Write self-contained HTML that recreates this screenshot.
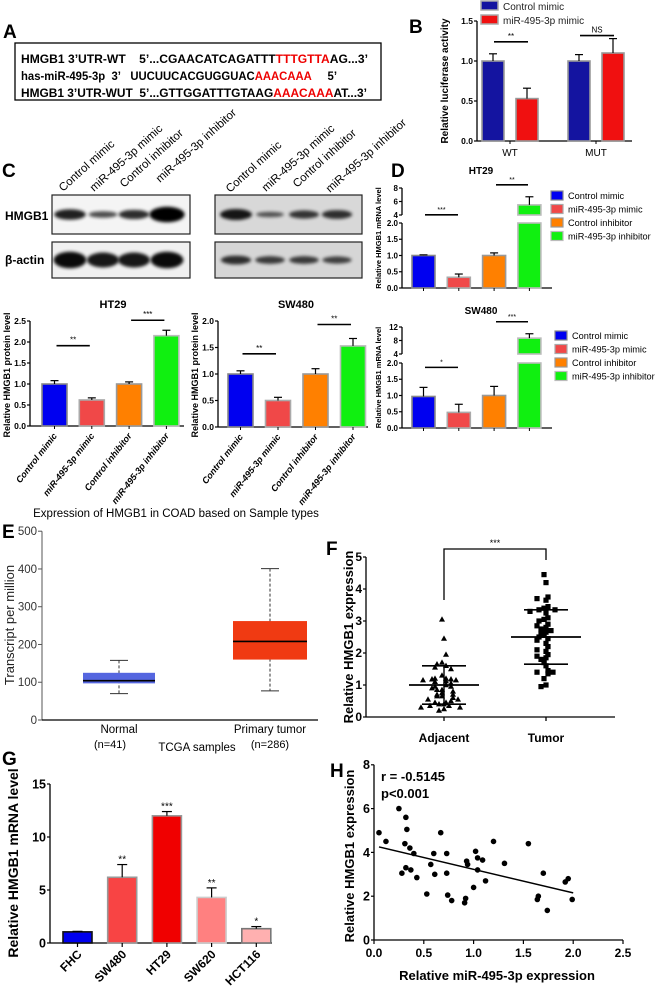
<!DOCTYPE html>
<html><head><meta charset="utf-8"><style>
html,body{margin:0;padding:0;background:#fff;width:656px;height:990px;overflow:hidden}
svg{display:block;font-family:"Liberation Sans",Arial,sans-serif}
.pl{font-weight:bold;font-size:19px;font-family:"Liberation Sans Narrow","Liberation Sans",sans-serif}
</style></head><body>
<svg id="fig" width="656" height="990" viewBox="0 0 656 990">
<defs>
<filter id="blur" x="-30%" y="-60%" width="160%" height="220%"><feGaussianBlur stdDeviation="1.6"/></filter>
</defs>
<text class="pl" x="3" y="38">A</text>
<rect x="15" y="43" width="366" height="57" fill="#fff" stroke="#000" stroke-width="1.3"/>
<g font-size="11.5" font-weight="bold" font-family="Liberation Sans Narrow,Liberation Sans,sans-serif">
<text x="21" y="63" textLength="347" lengthAdjust="spacingAndGlyphs">HMGB1 3’UTR-WT&#160;&#160;&#160; 5’...CGAACATCAGATTT<tspan fill="#e00">TTTGTTA</tspan>AG...3’</text>
<text x="21" y="80" textLength="316" lengthAdjust="spacingAndGlyphs">has-miR-495-3p&#160; 3’&#160;&#160; UUCUUCACGUGGUAC<tspan fill="#e00">AAACAAA</tspan>&#160;&#160;&#160;&#160; 5’</text>
<text x="21" y="97" textLength="346" lengthAdjust="spacingAndGlyphs">HMGB1 3’UTR-WUT&#160; 5’...GTTGGATTTGTAAG<tspan fill="#e00">AAACAAA</tspan>AT...3’</text>
</g>
<text class="pl" x="409" y="33">B</text>
<text class="pl" x="2" y="177">C</text>
<text class="pl" x="391" y="177">D</text>
<text class="pl" x="2" y="538">E</text>
<text class="pl" x="326" y="555">F</text>
<text class="pl" x="2" y="765">G</text>
<text class="pl" x="330" y="777">H</text>
<g id="layer"></g>
</svg>
<script>
// Panel B
const bGroups=["WT","MUT"];
const bSeries=["Control mimic","miR-495-3p mimic"];
const bCtrl=[1.0,1.0];
const bMimic=[0.53,1.1];
const bCtrlErr=[0.09,0.08];
const bMimicErr=[0.13,0.18];
const bTicks=[0,0.5,1.0,1.5];
const bSig=["**","NS"];
// Panel C blots
const blotLanes=["Control mimic","miR-495-3p mimic","Control inhibitor","miR-495-3p inhibitor"];
const htHmgb=[0.95,0.6,0.85,1.4];
const htActin=[1.1,1.0,1.0,1.1];
const swHmgb=[1.0,0.5,0.75,0.8];
const swActin=[0.8,0.7,0.7,0.65];
// Panel C quant
const protCats=["Control mimic","miR-495-3p mimic","Control inhibitor","miR-495-3p inhibitor"];
const protHT=[1.0,0.62,1.0,2.15];
const protHTErr=[0.08,0.05,0.05,0.13];
const protHTTicks=[0,0.5,1.0,1.5,2.0,2.5];
const protSW=[1.0,0.5,1.0,1.53];
const protSWErr=[0.06,0.06,0.1,0.14];
const protSWTicks=[0,0.5,1.0,1.5,2.0];
const protSig=["**","***"];
const protSigSW=["**","**"];
// Panel D
const dHT=[1.0,0.33,1.0,5.5];
const dHTErr=[0.02,0.1,0.08,1.2];
const dSW=[0.97,0.48,1.0,8.7];
const dSWErr=[0.28,0.25,0.28,1.3];
const dLowTicks=[0,0.5,1.0,1.5,2.0];
const dHTUpTicks=[4,6,8];
const dSWUpTicks=[4,8,12];
const dSigHT=["***","**"];
const dSigSW=["*","***"];
// Panel E
const eCats=["Normal","Primary tumor"];
const eN=["(n=41)","(n=286)"];
const eMin=[70,77];
const eQ1=[97,160];
const eMed=[104,208];
const eQ3=[125,262];
const eMax=[158,401];
const eTicks=[0,100,200,300,400,500];
// Panel F
const fCats=["Adjacent","Tumor"];
const fAdj=[3.05,2.45,1.95,1.7,1.65,1.6,1.55,1.5,1.2,1.2,1.18,1.18,1.15,1.15,1.12,1.1,1.05,1.0,0.95,0.95,0.9,0.85,0.85,0.8,0.75,0.7,0.7,0.65,0.65,0.6,0.55,0.55,0.45,0.45,0.4,0.4,0.35,0.35,0.3,0.3,0.25,0.2,1.3,0.5];
const fTum=[4.45,4.2,3.75,3.7,3.65,3.45,3.4,3.35,3.35,3.3,3.25,3.1,3.05,3.0,2.9,2.85,2.8,2.75,2.7,2.65,2.6,2.55,2.5,2.45,2.4,2.3,2.2,2.1,2.05,1.95,1.9,1.85,1.8,1.7,1.6,1.45,1.4,1.4,1.35,1.2,1.0,0.95];
const fMean=[1.0,2.5];
const fSD=[0.6,0.85];
const fTicks=[0,1,2,3,4,5];
// Panel G
const gCats=["FHC","SW480","HT29","SW620","HCT116"];
const gVals=[1.05,6.2,12.0,4.3,1.35];
const gErr=[0.05,1.2,0.4,0.9,0.2];
const gSig=["","**","***","**","*"];
const gTicks=[0,5,10,15];
// Panel H
const hX=[0.05,0.12,0.25,0.28,0.32,0.33,0.31,0.32,0.36,0.37,0.4,0.43,0.53,0.57,0.6,0.61,0.67,0.73,0.73,0.74,0.78,0.91,0.92,0.93,0.94,1.0,1.02,1.04,1.04,1.09,1.12,1.2,1.31,1.55,1.64,1.65,1.7,1.74,1.92,1.95,1.99];
const hY=[4.9,4.5,6.0,3.05,5.6,5.05,4.4,3.3,4.2,3.2,3.95,2.85,2.1,3.45,3.95,3.0,4.9,3.95,3.05,2.05,1.8,1.7,1.9,3.6,3.45,2.4,4.05,3.75,3.2,3.65,2.7,4.5,3.5,4.4,1.85,2.0,3.05,1.35,2.65,2.8,1.85];
const hFit=[4.25,2.15];
const hFitX=[0.05,2.0];
const hXTicks=[0,0.5,1.0,1.5,2.0,2.5];
const hYTicks=[0,2,4,6,8];

const NS="http://www.w3.org/2000/svg";
const L=document.getElementById('layer');
function mk(tag,a,p){const e=document.createElementNS(NS,tag);for(const k in a)e.setAttribute(k,a[k]);(p||L).appendChild(e);return e;}
function fmt(v,d){return v.toFixed(d);}
function yAxis(x,ticks,scale,dec,fs,name,col){
  const ln=mk('line',{x1:x,x2:x,y1:scale(ticks[ticks.length-1]),y2:scale(ticks[0]),stroke:col||'#000','stroke-width':1.3});
  
  
  ticks.forEach(t=>{const y=scale(t);
    mk('line',{x1:x-3,x2:x,y1:y,y2:y,stroke:col||'#000','stroke-width':1.2});
    const tx=mk('text',{x:x-4,y:y+fs*0.35,'font-size':fs,'font-weight':'bold','text-anchor':'end'});
    tx.textContent=fmt(t,dec);
    
    });
}
function xAxis(x1,x2,y,name){const ln=mk('line',{x1:x1,x2:x2,y1:y,y2:y,stroke:'#000','stroke-width':1.3});
  
  }
function rotText(x,y,txt,fs,ang,name,anchor,extra){
  const t=mk('text',Object.assign({x:x,y:y,'font-size':fs,'text-anchor':anchor||'middle',transform:`rotate(${ang} ${x} ${y})`},extra||{}));
  t.textContent=txt;
  
  
  return t;}
function bar(x,w,y0,y1,fill,stroke,name){const r=mk('rect',{x:x,y:Math.min(y0,y1),width:w,height:Math.abs(y1-y0),fill:fill,stroke:stroke,'stroke-width':1.6});
  
  return r;}
function err(cx,yTop,yErr,cap){mk('line',{x1:cx,x2:cx,y1:yTop,y2:yErr,stroke:'#000','stroke-width':1.2});mk('line',{x1:cx-cap,x2:cx+cap,y1:yErr,y2:yErr,stroke:'#000','stroke-width':1.2});}
function sig(x1,x2,y,txt,fs){mk('line',{x1:x1,x2:x2,y1:y,y2:y,stroke:'#000','stroke-width':1.6});
  const t=mk('text',{x:(x1+x2)/2,y:y-3,'font-size':fs,'text-anchor':'middle'});t.textContent=txt;
  
  }
function label(x,y,txt,fs,anchor,name,extra){const t=mk('text',Object.assign({x:x,y:y,'font-size':fs,'text-anchor':anchor},extra||{}));t.textContent=txt;
  
  return t;}
const fourCol=['#0000f0','#f04848','#ff8000','#10f010'];
const fourStroke=['#888','#aaa','#999','#bbb'];

(function(){
  const yB=v=>141-v*80; const ax=477;
  yAxis(ax,bTicks,yB,1,8.5,'b');
  xAxis(ax,632,141,'b');
  rotText(448,81,'Relative luciferase activity',10,-90,'b-y-title','middle',{'font-weight':'bold'});
  bGroups.forEach((g,i)=>{
    const gl=482+i*86;
    const y1=yB(bCtrl[i]);bar(gl,22,yB(0),y1,'#1414a0','#999','b-bar-control-'+g);
    err(gl+11,y1,yB(bCtrl[i]+bCtrlErr[i]),4);
    const y2=yB(bMimic[i]);bar(gl+34,22,yB(0),y2,'#f01010','#999','b-bar-mimic-'+g);
    err(gl+45,y2,yB(bMimic[i]+bMimicErr[i]),4);
    mk('line',{x1:gl+28,x2:gl+28,y1:141,y2:144,stroke:'#000'});
    label(gl+28,156,g,10,'middle','b-x-label-'+g);
    const top=Math.max(bCtrl[i]+bCtrlErr[i],bMimic[i]+bMimicErr[i]);
    sig(gl+12,gl+46,yB(top)-(i?3:12),bSig[i],8);
  });
  bSeries.forEach((s,i)=>{const r=mk('rect',{x:481,y:1+i*14,width:17,height:9,fill:i?'#f01010':'#1414a0',stroke:'#aaa','stroke-width':1.5});
    
    
    label(503,10+i*14,s,10,'start','b-legend-entry',{fill:'#222'});});
})();

(function(){
  function blot(x,y,w,h,bg,cx,vals,name,thick){
    const r=mk('rect',{x:x,y:y,width:w,height:h,fill:bg,stroke:'#222','stroke-width':1.2});
    
    
    vals.forEach((v,i)=>{const e=mk('ellipse',{cx:cx[i],cy:y+h/2,rx:12+4*v,ry:(thick)*v,fill:'#000',opacity:Math.min(1,0.35+0.55*v),filter:'url(#blur)'});
      
      });
  }
  const cx1=[70,103,134,167],cx2=[236,270,304,337];
  blot(52,195,138,39,'#f4f4f4',cx1,htHmgb,'ht29-hmgb1-blot',5.5);
  blot(52,242,138,36,'#f0f0f0',cx1,htActin,'ht29-actin-blot',7.5);
  blot(215,195,147,39,'#d8d8d8',cx2,swHmgb,'sw480-hmgb1-blot',5.5);
  blot(215,242,147,36,'#d6d6d6',cx2,swActin,'sw480-actin-blot',5.5);
  label(5,220,'HMGB1',12,'start','hmgb1-row-label',{'font-weight':'bold'});
  label(5,264,'β-actin',12,'start','actin-row-label',{'font-weight':'bold'});
  const st1=[[63,192],[94,192],[124,188],[160,183]],st2=[[230,193],[266,192],[297,188],[330,193]];
  blotLanes.forEach((l,i)=>{rotText(st1[i][0],st1[i][1],l,11.5,-42,'ht29-lane-label','start');
    rotText(st2[i][0],st2[i][1],l,11.5,-42,'sw480-lane-label','start');});
})();

function protChart(vals,errs,ticks,scale,ax,xEnd,left,step,w,title,tx,sigs,sigYs,name){
  yAxis(ax,ticks,scale,1,8.5,name);
  xAxis(ax,xEnd,scale(0),name);
  label(tx,308,title,11,'middle',name+'-title',{'font-weight':'bold'});
  rotText(ax-20,375,'Relative HMGB1 protein level',9,-90,name+'-y-title','middle',{'font-weight':'bold'});
  vals.forEach((v,i)=>{const x=left+i*step;const y=scale(v);
    bar(x,w,scale(0),y,fourCol[i],fourStroke[i],name+'-bar-'+i);
    err(x+w/2,y,scale(v+errs[i]),4);
    mk('line',{x1:x+w/2,x2:x+w/2,y1:scale(0),y2:scale(0)+3,stroke:'#000'});
    rotText(x+w/2+3,scale(0)+10,protCats[i],9,-52,name+'-x-label','end',{'font-weight':'bold','font-style':'italic'});
  });
  sig(left+w/2+2,left+step+w/2-2,scale(Math.max(vals[0]+errs[0],vals[1]+errs[1]))-sigYs[0],sigs[0],8);
  sig(left+2*step+w/2+2,left+3*step+w/2-2,scale(Math.max(vals[2]+errs[2],vals[3]+errs[3]))-sigYs[1],sigs[1],8);
}
protChart(protHT,protHTErr,protHTTicks,v=>426-v*42,30,184,42,37.3,25,'HT29',113,protSig,[35,10],'prot-ht29');
protChart(protSW,protSWErr,protSWTicks,v=>427-v*53,218,368,228,37.5,25,'SW480',296,protSigSW,[17,14],'prot-sw480');

function dChart(vals,errs,upTicks,low,up,yTop,title,titleY,sigs,legY,legX,name){
  const ax=402;
  yAxis(ax,dLowTicks,low,1,8,name);
  yAxis(ax,upTicks,up,0,8,name+'-upper');
  xAxis(ax,552,low(0),name);
  label(481,titleY,title,10,'middle',name+'-title',{'font-weight':'bold'});
  rotText(381,(up(upTicks[2])+low(0))/2,'Relative HMGB1 mRNA level',7.5,-90,name+'-y-title','middle',{'font-weight':'bold'});
  vals.forEach((v,i)=>{const x=412+i*35.3,w=23;
    if(v<=2){const y=low(v);bar(x,w,low(0),y,fourCol[i],fourStroke[i],name+'-bar-'+i);err(x+w/2,y,low(v+errs[i]),4);}
    else{bar(x,w,low(0),low(2),fourCol[i],fourStroke[i],name+'-bar-'+i+'-lower');
      const y=up(v);bar(x,w,up(upTicks[0]),y,fourCol[i],fourStroke[i],name+'-bar-'+i+'-upper');err(x+w/2,y,up(v+errs[i]),4);}
    mk('line',{x1:x+w/2,x2:x+w/2,y1:low(0),y2:low(0)+3,stroke:'#000'});
  });
  const s1=Math.max(vals[0]+errs[0],vals[1]+errs[1]);
  sig(425,458,low(s1)-(name==='d-ht29'?40:20),sigs[0],7);
  sig(496,528,up(vals[3]+errs[3])-12,sigs[1],7);
  blotLanes.forEach((l,i)=>{const r=mk('rect',{x:legX,y:legY+i*13.5-8,width:12,height:9,fill:fourCol[i],stroke:fourStroke[i],'stroke-width':1.2});
    
    
    label(legX+17,legY+i*13.5,l,9.2,'start',name+'-legend-entry');});
}
dChart(dHT,dHTErr,dHTUpTicks,v=>288-v*32.5,v=>215-(v-4)*6.75,188,'HT29',174,dSigHT,199,551,'d-ht29');
dChart(dSW,dSWErr,dSWUpTicks,v=>428-v*32.5,v=>354-(v-4)*3.375,327,'SW480',314,dSigSW,339,555,'d-sw480');

(function(){
  const yE=v=>720-v*0.3776; const ax=42;
  label(176,517,'Expression of HMGB1 in COAD based on Sample types',11.5,'middle','e-title',{'font-family':'Liberation Sans Narrow,Liberation Sans,sans-serif'});
  const ln=mk('line',{x1:ax,x2:ax,y1:yE(500),y2:720,stroke:'#555','stroke-width':1});
  
  
  xAxis(ax,318,720,'e');
  eTicks.forEach(t=>{mk('line',{x1:ax-4,x2:ax,y1:yE(t),y2:yE(t),stroke:'#555'});
    label(ax-5,yE(t)+4,String(t),11.5,'end','e-y-tick-label',{fill:'#333','font-family':'Liberation Sans Narrow,Liberation Sans,sans-serif'});});
  rotText(14,625,'Transcript per million',13,-90,'e-y-title','middle',{fill:'#222','font-family':'Liberation Sans Narrow,Liberation Sans,sans-serif'});
  const cxs=[119,270],cols=['#5566e0','#f03a12'],hw=[36,37];
  eCats.forEach((c,i)=>{const cx=cxs[i];
    mk('line',{x1:cx,x2:cx,y1:yE(eMax[i]),y2:yE(eMin[i]),stroke:'#333','stroke-dasharray':'3,2'});
    mk('line',{x1:cx-9,x2:cx+9,y1:yE(eMax[i]),y2:yE(eMax[i]),stroke:'#333'});
    mk('line',{x1:cx-9,x2:cx+9,y1:yE(eMin[i]),y2:yE(eMin[i]),stroke:'#333'});
    const b=mk('rect',{x:cx-hw[i],y:yE(eQ3[i]),width:hw[i]*2,height:yE(eQ1[i])-yE(eQ3[i]),fill:cols[i]});
    
    
    mk('line',{x1:cx-hw[i],x2:cx+hw[i],y1:yE(eMed[i]),y2:yE(eMed[i]),stroke:'#000','stroke-width':1.6});
    label(cx,733,c,11.5,'middle','e-x-label',{'font-family':'Liberation Sans Narrow,Liberation Sans,sans-serif'});
    label(cx-9*(1-i),748,eN[i],11,'middle','e-n-label',{'font-family':'Liberation Sans Narrow,Liberation Sans,sans-serif'});
  });
  label(197,751,'TCGA samples',11.5,'middle','e-x-title',{'font-family':'Liberation Sans Narrow,Liberation Sans,sans-serif'});
})();

(function(){
  const yF=v=>717-v*32; const ax=366; const cxs=[444,546];
  yAxis(ax,fTicks,yF,0,12,'f');
  xAxis(ax,615,717,'f');
  rotText(353,637,'Relative HMGB1 expression',13,-90,'f-y-title','middle',{'font-weight':'bold'});
  fCats.forEach((c,i)=>{mk('line',{x1:cxs[i],x2:cxs[i],y1:717,y2:721,stroke:'#000','stroke-width':1.3});
    label(cxs[i],742,c,12,'middle','f-x-label',{'font-weight':'bold'});});
  function jitter(vals,cx,shape,name){
    const counts={};
    vals.forEach((v,k)=>{const bin=Math.round(v/0.12);counts[bin]=(counts[bin]||0)+1;const n=counts[bin];
      const off=(n%2?1:-1)*Math.floor(n/2)*7+((k%3)-1)*2;
      const x=cx+off,y=yF(v);let e;
      if(shape==='tri')e=mk('path',{d:`M${x},${y-3.2}L${x+3},${y+2.2}L${x-3},${y+2.2}Z`,fill:'#000'});
      else e=mk('rect',{x:x-2.6,y:y-2.6,width:5.2,height:5.2,fill:'#000'});
      
      });
  }
  jitter(fAdj,cxs[0],'tri','f-point-adjacent');
  jitter(fTum,cxs[1],'sq','f-point-tumor');
  fCats.forEach((c,i)=>{const cx=cxs[i];
    mk('line',{x1:cx-35,x2:cx+35,y1:yF(fMean[i]),y2:yF(fMean[i]),stroke:'#000','stroke-width':1.8});
    mk('line',{x1:cx-22,x2:cx+22,y1:yF(fMean[i]+fSD[i]),y2:yF(fMean[i]+fSD[i]),stroke:'#000','stroke-width':1.6});
    mk('line',{x1:cx-22,x2:cx+22,y1:yF(fMean[i]-fSD[i]),y2:yF(fMean[i]-fSD[i]),stroke:'#000','stroke-width':1.6});
    mk('line',{x1:cx,x2:cx,y1:yF(fMean[i]+fSD[i]),y2:yF(fMean[i]-fSD[i]),stroke:'#000','stroke-width':1.4});});
  mk('path',{d:`M${cxs[0]},600V549H${cxs[1]}V560`,fill:'none',stroke:'#000','stroke-width':1.3});
  label((cxs[0]+cxs[1])/2,546,'***',9,'middle','f-significance');
})();

(function(){
  const yG=v=>943-v*10.6; const ax=50;
  yAxis(ax,gTicks,yG,0,12.5,'g');
  xAxis(ax,272,943,'g');
  rotText(18,863,'Relative HMGB1 mRNA level',14,-90,'g-y-title','middle',{'font-weight':'bold'});
  const cols=['#0000ee','#f84444','#f00000','#ff8080','#ffb0b0'],strk=['#111','#999','#999','#ccc','#777'];
  gCats.forEach((c,i)=>{const x=63+i*44.7,w=29,y=yG(gVals[i]);
    bar(x,w,943,y,cols[i],strk[i],'g-bar-'+c);
    err(x+w/2,y,yG(gVals[i]+gErr[i]),5);
    if(gSig[i])label(x+w/2,yG(gVals[i]+gErr[i])-2,gSig[i],10,'middle','g-significance');
    mk('line',{x1:x+w/2,x2:x+w/2,y1:943,y2:947,stroke:'#000','stroke-width':1.2});
    rotText(x+w/2+5,955,c,12,-45,'g-x-label','end',{'font-weight':'bold'});});
})();

(function(){
  const xH=v=>374+v*99.6, yH=v=>940-v*21.9;
  yAxis(374,hYTicks,yH,0,12.5,'h');
  const xl=mk('line',{x1:374,x2:xH(2.5),y1:940,y2:940,stroke:'#000','stroke-width':1.3});
  
  
  hXTicks.forEach(t=>{mk('line',{x1:xH(t),x2:xH(t),y1:940,y2:944,stroke:'#000','stroke-width':1.2});
    label(xH(t),957,fmt(t,1),12,'middle','h-x-tick-label',{'font-weight':'bold'});});
  rotText(354,856,'Relative HMGB1 expression',13,-90,'h-y-title','middle',{'font-weight':'bold'});
  label(497,980,'Relative miR-495-3p expression',13,'middle','h-x-title',{'font-weight':'bold'});
  label(381,781,'r = -0.5145',13,'start','h-r-value',{'font-weight':'bold'});
  label(381,798,'p<0.001',13,'start','h-p-value',{'font-weight':'bold'});
  const fl=mk('line',{x1:xH(hFitX[0]),y1:yH(hFit[0]),x2:xH(hFitX[1]),y2:yH(hFit[1]),stroke:'#000','stroke-width':1.5});
  
  
  hX.forEach((v,i)=>{const c=mk('circle',{cx:xH(v),cy:yH(hY[i]),r:2.8,fill:'#000'});
    
    });
})();
</script>
</body></html>
